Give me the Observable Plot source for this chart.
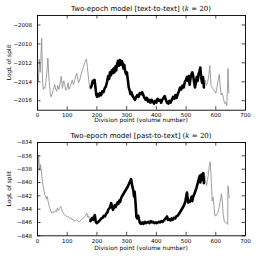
<!DOCTYPE html>
<html><head><meta charset="utf-8">
<script src="https://cdn.jsdelivr.net/npm/d3@7"></script>
<script src="https://cdn.jsdelivr.net/npm/@observablehq/plot@0.6"></script>
<style>
body{margin:0;background:#fff;width:258px;font-family:"DejaVu Sans",sans-serif;}
svg{display:block;overflow:visible;}
svg text{fill:#000;}
</style></head><body>
<div id="c"></div>
<script>
const xTicks = [0,100,200,300,400,500,600,700];
const blackRange = [178, 560];

const topTitle = "Two-epoch model [text-to-text]";
const topYTicks = [-2016,-2014,-2012,-2010,-2008];
const topX = [0,3,6,9,11,14,17,19,22,25,28,31,35,39,43,46,50,54,58,61,65,68,72,76,80,84,88,92,95,99,103,106,110,114,117,121,125,128,132,135,138,142,146,150,154,158,162,165,168,171,174,177,
180,183,186,189,192,195,198,201,204,207,210,214,218,222,226,230,234,238,241,244,247,250,253,256,259,262,265,268,271,274,277,280,283,286,289,292,295,298,301,304,307,310,313,316,320,324,328,332,336,340,344,348,352,356,360,364,368,372,376,380,384,388,392,396,400,404,408,412,416,420,424,428,432,436,440,444,448,452,456,460,464,468,472,476,480,484,488,492,496,500,503,506,509,512,515,518,521,524,527,530,533,536,539,542,545,548,551,554,557,560,
564,568,572,576,580,584,588,592,596,600,604,608,612,615,618,622,626,630,634,637,640,641,644];
const topY = [-2013.1,-2013.9,-2011.6,-2013.0,-2011.9,-2009.4,-2013.8,-2014.8,-2014.6,-2014.7,-2014.0,-2013.2,-2011.5,-2013.9,-2015.3,-2015.6,-2015.2,-2014.8,-2014.3,-2014.8,-2015.0,-2014.4,-2014.8,-2014.2,-2013.4,-2014.7,-2013.9,-2014.3,-2014.9,-2014.7,-2014.1,-2014.8,-2014.5,-2014.2,-2013.8,-2014.3,-2013.9,-2013.5,-2013.1,-2013.6,-2014.1,-2013.8,-2013.3,-2012.9,-2012.5,-2012.1,-2011.7,-2011.6,-2012.5,-2013.4,-2014.2,-2014.8,
-2014.6,-2014.3,-2013.9,-2014.1,-2013.8,-2014.6,-2015.4,-2015.6,-2015.3,-2015.5,-2015.2,-2015.4,-2015.0,-2015.1,-2014.7,-2014.5,-2014.0,-2013.4,-2013.7,-2013.0,-2013.3,-2012.8,-2013.1,-2012.6,-2013.0,-2012.4,-2012.8,-2012.1,-2011.8,-2012.3,-2011.7,-2012.2,-2011.8,-2012.0,-2012.6,-2012.2,-2012.9,-2013.2,-2013.0,-2013.8,-2014.6,-2014.9,-2015.3,-2015.1,-2015.5,-2015.7,-2015.9,-2015.6,-2015.4,-2015.6,-2015.2,-2015.3,-2015.1,-2015.4,-2015.7,-2015.9,-2015.7,-2016.1,-2015.9,-2016.2,-2015.9,-2016.1,-2016.3,-2016.0,-2016.2,-2015.8,-2016.0,-2015.9,-2016.2,-2015.9,-2015.7,-2015.5,-2015.9,-2016.2,-2016.3,-2016.0,-2016.2,-2015.9,-2015.6,-2015.8,-2015.4,-2015.7,-2015.3,-2015.0,-2014.6,-2014.8,-2014.4,-2014.6,-2014.0,-2013.8,-2013.5,-2013.9,-2013.4,-2014.3,-2013.6,-2013.2,-2013.0,-2013.4,-2014.0,-2014.6,-2014.1,-2013.5,-2013.9,-2013.2,-2012.9,-2012.5,-2013.6,-2014.1,-2013.5,-2014.6,
-2013.8,-2014.4,-2014.1,-2013.5,-2012.3,-2014.4,-2014.6,-2014.8,-2015.0,-2015.2,-2014.6,-2013.8,-2013.2,-2014.5,-2015.4,-2015.2,-2015.8,-2016.3,-2016.2,-2016.5,-2014.0,-2012.6,-2015.2];

const botTitle = "Two-epoch model [past-to-text]";
const botYTicks = [-848,-846,-844,-842,-840,-838,-836,-834];
const botX = [0,2,4,6,8,10,12,15,18,21,24,27,30,33,36,40,44,48,52,56,60,64,67,70,74,78,81,84,88,92,96,100,104,108,112,116,120,124,128,132,136,140,144,148,152,156,160,163,166,169,172,175,178,
181,184,187,190,193,196,199,203,207,211,215,219,223,227,231,235,239,243,246,248,251,254,257,260,263,266,269,272,275,278,281,284,288,292,296,300,304,308,312,315,317,319,321,323,325,327,329,331,333,336,339,342,345,349,353,357,361,365,369,373,377,381,385,389,393,397,401,405,409,413,417,421,425,429,433,436,439,443,447,451,455,459,463,467,471,475,479,483,487,491,495,498,501,503,505,507,510,513,516,519,521,523,526,529,532,535,538,541,544,546,548,550,552,554,556,558,560,
563,566,569,572,575,578,581,584,586,588,591,594,597,600,603,607,611,615,619,622,625,629,633,637,640,641,643,645];
const botY = [-839.5,-837.5,-835.9,-837.8,-838.2,-837.3,-837.9,-839.2,-840.3,-841.0,-841.8,-842.0,-842.5,-842.1,-842.9,-843.6,-844.2,-844.6,-844.4,-844.5,-844.2,-844.4,-843.8,-844.2,-843.9,-843.6,-843.9,-844.4,-844.7,-844.9,-845.0,-845.2,-845.1,-845.4,-845.3,-845.6,-845.5,-845.8,-845.7,-845.6,-845.8,-845.9,-845.7,-845.6,-845.4,-845.3,-845.1,-844.9,-844.6,-845.2,-845.0,-845.5,-845.8,
-845.5,-845.3,-845.6,-845.2,-844.9,-845.9,-846.1,-846.0,-845.8,-845.6,-845.4,-845.3,-845.0,-845.1,-844.7,-844.5,-844.0,-843.8,-843.4,-843.1,-843.7,-844.1,-843.8,-843.4,-843.7,-843.3,-843.0,-843.2,-842.7,-842.9,-842.4,-842.1,-841.8,-841.5,-841.2,-840.9,-840.6,-840.2,-839.8,-839.5,-840.0,-840.6,-840.9,-841.4,-842.1,-841.4,-842.5,-843.8,-845.2,-845.4,-845.0,-845.6,-846.1,-846.2,-846.0,-846.2,-845.9,-846.1,-846.0,-845.9,-846.1,-845.8,-846.0,-845.9,-846.1,-846.0,-846.1,-846.0,-845.9,-846.0,-845.8,-845.9,-845.7,-845.5,-845.3,-845.1,-845.6,-845.5,-845.7,-845.4,-845.6,-845.3,-845.4,-845.1,-845.0,-844.8,-844.5,-844.2,-843.9,-843.6,-843.2,-842.7,-842.0,-841.5,-842.3,-843.0,-842.8,-842.9,-842.5,-842.1,-842.8,-842.3,-841.9,-841.6,-841.2,-840.8,-840.3,-839.8,-839.3,-839.0,-840.0,-839.4,-838.8,-839.6,-839.2,-838.6,-840.1,
-839.0,-839.8,-840.5,-839.6,-838.8,-837.6,-836.9,-838.8,-841.0,-842.8,-842.2,-843.5,-845.0,-845.0,-844.8,-844.5,-843.8,-842.8,-841.7,-842.8,-844.8,-845.9,-846.0,-846.1,-846.3,-840.5,-841.5,-842.3];

function panel({xs, ys, yDomain, yTicks, title, mt, mb, titleY, xlabY, xPad}) {
  const W = 258, H = 129, ml = 37, mr = 13;
  const pw = W - ml - mr, ph = H - mt - mb, tk = 3.5;
  const data = xs.map((x, i) => ({x, y: ys[i]}));
  const black = data.filter(d => d.x >= blackRange[0] && d.x <= blackRange[1]);
  const svg = Plot.plot({
    width: W, height: H, marginLeft: ml, marginRight: mr, marginTop: mt, marginBottom: mb,
    style: {fontFamily: "DejaVu Sans", fontSize: "5.5px", color: "black", background: "white"},
    x: {domain: [0, 700], ticks: xTicks, tickSize: 0, tickPadding: xPad, label: null, tickFormat: d3.format("d")},
    y: {domain: yDomain, ticks: yTicks, tickSize: 0, tickPadding: 5.5, label: null, tickFormat: d => d3.format("d")(d).replace("-", "\u2212")},
    marks: [
      Plot.line(data, {x: "x", y: "y", stroke: "#939393", strokeWidth: 0.9}),
      Plot.line(black, {x: "x", y: "y", stroke: "black", strokeWidth: 2.6, strokeLinejoin: "round"}),
      Plot.tickX(xTicks, {x: d => d, insetTop: ph - tk, stroke: "black", strokeWidth: 0.7}),
      Plot.tickX(xTicks, {x: d => d, insetBottom: ph - tk, stroke: "black", strokeWidth: 0.7}),
      Plot.tickY(yTicks, {y: d => d, insetRight: pw - tk, stroke: "black", strokeWidth: 0.7}),
      Plot.tickY(yTicks, {y: d => d, insetLeft: pw - tk, stroke: "black", strokeWidth: 0.7}),
      Plot.frame({stroke: "black", strokeWidth: 0.9})
    ]
  });
  const s = d3.select(svg);
  const cx = ml + pw / 2;
  const t = s.append("text").attr("x", cx).attr("y", titleY).attr("text-anchor", "middle")
    .attr("font-size", "7px").attr("font-family", "DejaVu Sans").attr("fill", "black");
  t.append("tspan").text(title + " (");
  t.append("tspan").attr("font-style", "italic").attr("font-family", "DejaVu Serif").text("k");
  t.append("tspan").attr("font-family", "DejaVu Serif").text(" = 20");
  t.append("tspan").text(")");
  s.append("text").attr("x", cx).attr("y", xlabY).attr("text-anchor", "middle")
    .attr("font-size", "5.9px").attr("font-family", "DejaVu Sans").attr("fill", "black")
    .text("Division point (volume number)");
  s.append("text").attr("transform", `translate(10.5,${mt + ph / 2}) rotate(-90)`).attr("text-anchor", "middle")
    .attr("font-size", "5.9px").attr("font-family", "DejaVu Sans").attr("fill", "black")
    .text("LogL of split");
  return svg;
}

const c = document.getElementById("c");
c.appendChild(panel({xs: topX, ys: topY, yDomain: [-2017, -2007], yTicks: topYTicks, title: topTitle, mt: 15, mb: 19.3, titleY: 10.5, xlabY: 122, xPad: 3}));
c.appendChild(panel({xs: botX, ys: botY, yDomain: [-848, -834], yTicks: botYTicks, title: botTitle, mt: 13, mb: 22.7, titleY: 8.5, xlabY: 121, xPad: 3.5}));
</script></body></html>
